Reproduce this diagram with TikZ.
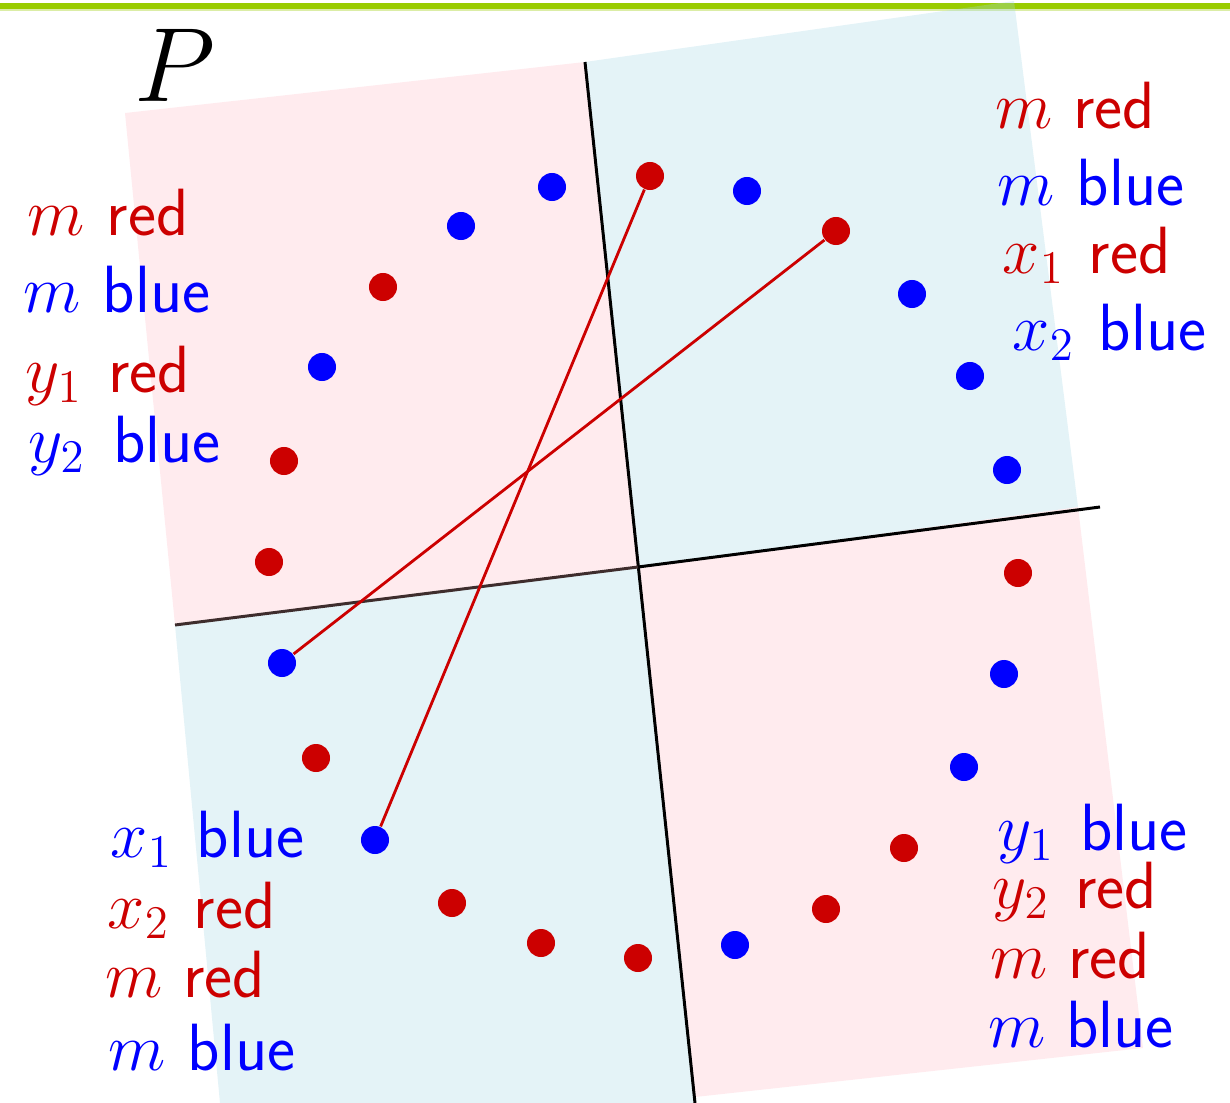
\RequirePackage{fix-cm}
\documentclass[tikz,border=0pt]{standalone}
\usepackage{xcolor}
\usepackage{tikz}
\usetikzlibrary{
  positioning,          % relative node placement
  calc,                 % coordinate math
}

\definecolor{mred}{RGB}{204,0,0}
\definecolor{mblue}{RGB}{0,0,255}
\definecolor{slidegreen}{RGB}{153,204,0}
\definecolor{pinkq}{RGB}{255,190,200}
\definecolor{blueq}{RGB}{165,215,230}
\definecolor{sepdark}{RGB}{62,45,45}

\newcommand{\colpair}[3][22.5pt]{\makebox[#1][l]{$#2$}#3}

\begin{document}
\begin{tikzpicture}[
  x=0.01cm, y=-0.01cm,
  rdot/.style={circle, fill=mred, inner sep=0pt, minimum size=0.28cm},
  bdot/.style={circle, fill=mblue, inner sep=0pt, minimum size=0.28cm},
  quad/.style={fill opacity=0.3},
  sepline/.style={line width=0.85pt},
  link/.style={mred, line width=0.8pt},
  lab/.style={anchor=base west, inner sep=0pt, font=\fontsize{19}{22}\selectfont\sffamily},
]
  \useasboundingbox (0,0) rectangle (1230,1103);
  % Slide bar
  \fill[slidegreen] (0,3) rectangle (1230,9);
  \fill[slidegreen!35] (0,9) rectangle (1230,10.5);
  % Quadrants
  \fill[pinkq, quad] (125,113) -- (585,62) -- (638,567) -- (175,625) -- cycle;
  \fill[blueq, quad] (585,62) -- (1014,1) -- (1078,507) -- (638,567) -- cycle;
  \fill[pinkq, quad] (638,567) -- (1078,507) -- (1143,1048) -- (695,1097) -- cycle;
  \fill[blueq, quad] (175,625) -- (638,567) -- (695,1103) -- (220,1103) -- cycle;
  % Cut lines
  \coordinate (top)  at (585,62);
  \coordinate (bot)  at (695,1103);
  \coordinate (west) at (175,625);
  \coordinate (east) at (1100,507);
  \coordinate (mid)  at (638,567);
  \draw[sepline] (top) -- (bot);
  \draw[sepline, sepdark] (west) -- (mid);
  \draw[sepline] (mid) -- (east);
  % Red points
  \node[rdot] (r1)  at (650,176) {};
  \node[rdot] (r2)  at (836,231) {};
  \node[rdot] (r3)  at (383,287) {};
  \node[rdot] (r4)  at (284,461) {};
  \node[rdot] (r5)  at (269,562) {};
  \node[rdot] (r6)  at (316,758) {};
  \node[rdot] (r7)  at (452,903) {};
  \node[rdot] (r8)  at (541,943) {};
  \node[rdot] (r9)  at (638,958) {};
  \node[rdot] (r10) at (826,909) {};
  \node[rdot] (r11) at (904,848) {};
  \node[rdot] (r12) at (1018,573) {};
  % Blue points
  \node[bdot] (b1)  at (552,187) {};
  \node[bdot] (b2)  at (747,191) {};
  \node[bdot] (b3)  at (461,226) {};
  \node[bdot] (b4)  at (322,367) {};
  \node[bdot] (b5)  at (912,294) {};
  \node[bdot] (b6)  at (970,376) {};
  \node[bdot] (b7)  at (1007,470) {};
  \node[bdot] (b8)  at (282,663) {};
  \node[bdot] (b9)  at (375,840) {};
  \node[bdot] (b10) at (735,945) {};
  \node[bdot] (b11) at (964,767) {};
  \node[bdot] (b12) at (1004,674) {};
  % Crossing segments
  \draw[link] (r1) -- (b9);
  \draw[link] (r2) -- (b8);
  % Label
  \node[anchor=base west, inner sep=0pt, font=\fontsize{30}{36}\selectfont] (plab) at (134,101) {$P$};
  % Top left counts
  \node[lab, mred]  (tl1) at (27,235)  {\colpair{m}{red}};
  \node[lab, mblue] (tl2) at (23,312)  {\colpair{m}{blue}};
  \node[lab, mred]  (tl3) at (25,392)  {\colpair[23.5pt]{y_1}{red}};
  \node[lab, mblue] (tl4) at (28,462)  {\colpair[24pt]{y_2}{blue}};
  % Top right counts
  \node[lab, mred]  (tr1) at (995,128)  {\colpair[22pt]{m}{red}};
  \node[lab, mblue] (tr2) at (997,205)  {\colpair{m}{blue}};
  \node[lab, mred]  (tr3) at (1002,273) {\colpair[24.5pt]{x_1}{red}};
  \node[lab, mblue] (tr4) at (1012,350) {\colpair[24.5pt]{x_2}{blue}};
  % Bottom left counts
  \node[lab, mblue] (bl1) at (110,857)  {\colpair[24.5pt]{x_1}{blue}};
  \node[lab, mred]  (bl2) at (107,928)  {\colpair[24.5pt]{x_2}{red}};
  \node[lab, mred]  (bl3) at (105,997)  {\colpair[22pt]{m}{red}};
  \node[lab, mblue] (bl4) at (108,1070) {\colpair{m}{blue}};
  % Bottom right counts
  \node[lab, mblue] (br1) at (997,850)  {\colpair[23.5pt]{y_1}{blue}};
  \node[lab, mred]  (br2) at (992,908)  {\colpair[23.5pt]{y_2}{red}};
  \node[lab, mred]  (br3) at (990,978)  {\colpair[22pt]{m}{red}};
  \node[lab, mblue] (br4) at (988,1047) {\colpair[22pt]{m}{blue}};
\end{tikzpicture}
\end{document}
